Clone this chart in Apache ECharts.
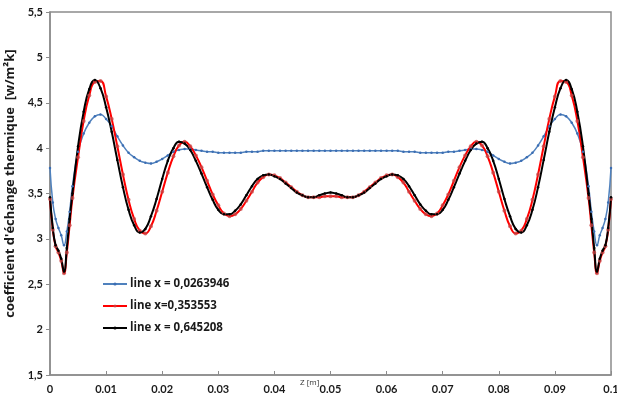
<!DOCTYPE html>
<html>
<head>
<meta charset="utf-8">
<script src="https://cdn.jsdelivr.net/npm/echarts@6/dist/echarts.min.js"></script>
<style>
  html, body { margin: 0; padding: 0; background: #fff; }
  #chart { width: 617px; height: 399px; }
</style>
</head>
<body>
<div id="chart"></div>
<script>
// position along the line, Z [m]
const zPos = [
  0, 0.0005, 0.001, 0.0015, 0.002, 0.0025, 0.003, 0.0035, 0.004,
  0.005, 0.006, 0.007, 0.008, 0.009,
  0.010, 0.011, 0.012, 0.013, 0.014, 0.015, 0.016, 0.017, 0.018, 0.019,
  0.020, 0.021, 0.022, 0.023, 0.024, 0.025, 0.026, 0.027, 0.028, 0.029,
  0.030, 0.031, 0.032, 0.033, 0.034, 0.035, 0.036, 0.037, 0.038, 0.039,
  0.040, 0.041, 0.042, 0.043, 0.044, 0.045, 0.046, 0.047, 0.048, 0.049,
  0.050, 0.051, 0.052, 0.053, 0.054, 0.055, 0.056, 0.057, 0.058, 0.059,
  0.060, 0.061, 0.062, 0.063, 0.064, 0.065, 0.066, 0.067, 0.068, 0.069,
  0.070, 0.071, 0.072, 0.073, 0.074, 0.075, 0.076, 0.077, 0.078, 0.079,
  0.080, 0.081, 0.082, 0.083, 0.084, 0.085, 0.086, 0.087, 0.088, 0.089,
  0.090, 0.091, 0.092, 0.093, 0.094, 0.095,
  0.096, 0.0965, 0.097, 0.0975, 0.098, 0.0985, 0.099, 0.0995, 0.1
];

// line x = 0,0263946
const hBlue = [
  3.78, 3.40, 3.22, 3.12, 3.04, 2.93, 3.08, 3.30, 3.58,
  3.96, 4.16, 4.28, 4.35, 4.37,
  4.32, 4.24, 4.13, 4.03, 3.95, 3.90, 3.86, 3.84, 3.83, 3.85,
  3.88, 3.92, 3.96, 3.98, 3.99, 3.99, 3.98, 3.97, 3.96, 3.96,
  3.95, 3.95, 3.95, 3.95, 3.95, 3.96, 3.96, 3.96, 3.97, 3.97,
  3.97, 3.97, 3.97, 3.97, 3.97, 3.97, 3.97, 3.97, 3.97, 3.97,
  3.97, 3.97, 3.97, 3.97, 3.97, 3.97, 3.97, 3.97, 3.97, 3.97,
  3.97, 3.97, 3.97, 3.96, 3.96, 3.96, 3.95, 3.95, 3.95, 3.95,
  3.95, 3.96, 3.96, 3.97, 3.98, 3.99, 3.99, 3.98, 3.96, 3.92,
  3.88, 3.85, 3.83, 3.84, 3.86, 3.90, 3.95, 4.03, 4.13, 4.24,
  4.32, 4.37, 4.35, 4.28, 4.16, 3.96,
  3.58, 3.30, 3.08, 2.93, 3.04, 3.12, 3.22, 3.40, 3.78
];

// line x=0,353553
const hRed = [
  3.44, 3.10, 2.92, 2.85, 2.76, 2.62, 2.85, 3.15, 3.45,
  3.90, 4.30, 4.58, 4.73, 4.74,
  4.57, 4.32, 4.02, 3.71, 3.43, 3.22, 3.09, 3.06, 3.14, 3.31,
  3.52, 3.73, 3.91, 4.03, 4.07, 4.02, 3.92, 3.79, 3.64, 3.49,
  3.37, 3.28, 3.25, 3.27, 3.33, 3.42, 3.52, 3.62, 3.68, 3.71,
  3.70, 3.67, 3.62, 3.57, 3.52, 3.48, 3.46, 3.46, 3.46, 3.47,
  3.47, 3.47, 3.46, 3.46, 3.46, 3.48, 3.52, 3.57, 3.62, 3.67,
  3.70, 3.71, 3.68, 3.62, 3.52, 3.42, 3.33, 3.27, 3.25, 3.28,
  3.37, 3.49, 3.64, 3.79, 3.92, 4.02, 4.07, 4.03, 3.91, 3.73,
  3.52, 3.31, 3.14, 3.06, 3.09, 3.22, 3.43, 3.71, 4.02, 4.32,
  4.57, 4.74, 4.73, 4.58, 4.30, 3.90,
  3.45, 3.15, 2.85, 2.62, 2.76, 2.85, 2.92, 3.10, 3.44
];

// line x = 0,645208
const hBlack = [
  3.46, 3.12, 2.93, 2.87, 2.78, 2.64, 2.90, 3.22, 3.50,
  4.02, 4.40, 4.65, 4.75, 4.66,
  4.45, 4.18, 3.87, 3.57, 3.32, 3.15, 3.07, 3.11, 3.25, 3.44,
  3.66, 3.86, 4.00, 4.07, 4.05, 3.98, 3.86, 3.72, 3.57, 3.43,
  3.32, 3.27, 3.27, 3.31, 3.38, 3.48, 3.58, 3.66, 3.70, 3.71,
  3.69, 3.66, 3.61, 3.56, 3.51, 3.48, 3.46, 3.46, 3.48, 3.50,
  3.51, 3.50, 3.48, 3.46, 3.46, 3.48, 3.51, 3.56, 3.61, 3.66,
  3.69, 3.71, 3.70, 3.66, 3.58, 3.48, 3.38, 3.31, 3.27, 3.27,
  3.32, 3.43, 3.57, 3.72, 3.86, 3.98, 4.05, 4.07, 4.00, 3.86,
  3.66, 3.44, 3.25, 3.11, 3.07, 3.15, 3.32, 3.57, 3.87, 4.18,
  4.45, 4.66, 4.75, 4.65, 4.40, 4.02,
  3.50, 3.22, 2.90, 2.64, 2.78, 2.87, 2.93, 3.12, 3.46
];

const seriesNames = ['line x = 0,0263946', 'line x=0,353553', 'line x = 0,645208'];

const chart = echarts.init(document.getElementById('chart'), null, { renderer: 'canvas' });

function pairs(vals) {
  return zPos.map((z, i) => [z, vals[i]]);
}

const font = '"Open Sans", Lato, sans-serif';
const tickFont = 'Lato, "Open Sans", sans-serif';

var option = {
  backgroundColor: '#ffffff',
  animation: false,
  grid: {
    left: 50, right: 6, top: 12, bottom: 24,
    outerBoundsMode: 'none',
    show: true,
    borderColor: '#8c8c8c',
    borderWidth: 1.5,
    backgroundColor: 'transparent'
  },
  legend: {
    orient: 'vertical',
    left: 97,
    top: 273,
    itemGap: 10,
    itemWidth: 24,
    itemHeight: 4,
    data: seriesNames,
    textStyle: { fontFamily: font, fontWeight: 'bold', fontSize: 11.5, color: '#1a1a1a', padding: [0, 0, 0, -2] }
  },
  xAxis: {
    type: 'value',
    min: 0,
    max: 0.1,
    interval: 0.01,
    axisLine: { lineStyle: { color: '#8c8c8c', width: 1.5 } },
    axisTick: { inside: true, length: 4, lineStyle: { color: '#8c8c8c' } },
    splitLine: { show: false },
    axisLabel: {
      margin: 9,
      fontFamily: tickFont, fontWeight: 'bold', fontSize: 11, color: '#1a1a1a',
      formatter: v => String(+v.toFixed(2))
    }
  },
  yAxis: {
    type: 'value',
    min: 1.5,
    max: 5.5,
    interval: 0.5,
    name: "coefficient d'échange thermique  [w/m²k]",
    nameLocation: 'middle',
    nameGap: 31,
    nameTextStyle: { fontFamily: font, fontWeight: 'bold', fontSize: 13, color: '#1a1a1a', padding: [0, 0, 0, 20] },
    axisLine: { show: true, lineStyle: { color: '#8c8c8c', width: 1.5 } },
    axisTick: { show: true, length: 4, lineStyle: { color: '#8c8c8c' } },
    splitLine: { show: false },
    axisLabel: {
      margin: 7,
      fontFamily: tickFont, fontWeight: 'bold', fontSize: 11, color: '#1a1a1a',
      formatter: v => String(v).replace('.', ',')
    }
  },
  graphic: [{
    type: 'text',
    left: 300,
    top: 379,
    style: { text: 'Z [m]', fontFamily: font, fontSize: 8, fill: '#333' }
  }],
  series: [{
    name: seriesNames[0],
    type: 'line',
    smooth: true,
    data: pairs(hBlue),
    symbol: 'circle',
    symbolSize: 2.5,
    showAllSymbol: true,
    lineStyle: { color: '#4f81bd', width: 1.5 },
    itemStyle: { color: '#3b6db3' }
  }, {
    name: seriesNames[1],
    type: 'line',
    smooth: true,
    data: pairs(hRed),
    symbol: 'circle',
    symbolSize: 4,
    showAllSymbol: true,
    lineStyle: { color: '#ff0000', width: 2 },
    itemStyle: { color: 'rgba(200,70,70,0.75)' }
  }, {
    name: seriesNames[2],
    type: 'line',
    smooth: true,
    data: pairs(hBlack),
    symbol: 'circle',
    symbolSize: 2.5,
    showAllSymbol: true,
    lineStyle: { color: '#000000', width: 2 },
    itemStyle: { color: '#000000' }
  }]
};

chart.setOption(option);
</script>
</body>
</html>
